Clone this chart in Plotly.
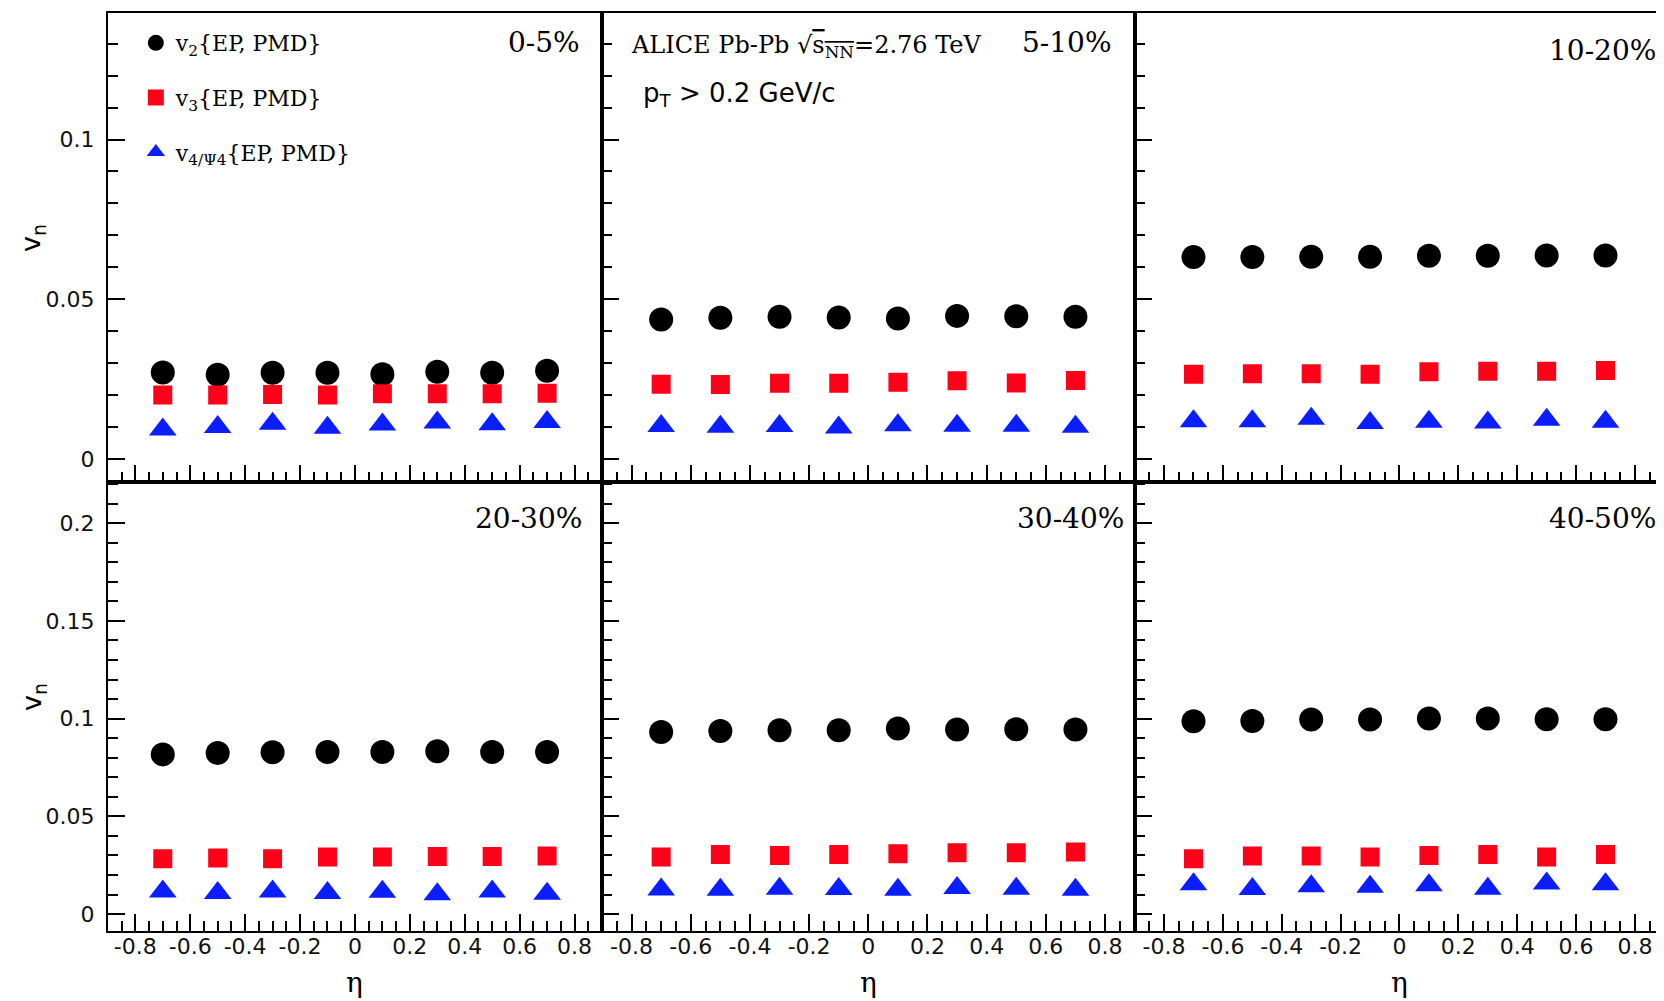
import plotly.graph_objects as go

# ---------------- data ----------------
eta = [-0.7, -0.5, -0.3, -0.1, 0.1, 0.3, 0.5, 0.7]

v2_0_5 = [0.0271, 0.0264, 0.0270, 0.0270, 0.0265, 0.0273, 0.0270, 0.0276]
v3_0_5 = [0.0200, 0.0200, 0.0202, 0.0200, 0.0204, 0.0204, 0.0204, 0.0206]
v4_0_5 = [0.0092, 0.0100, 0.0110, 0.0098, 0.0108, 0.0114, 0.0109, 0.0116]

v2_5_10 = [0.0437, 0.0442, 0.0445, 0.0443, 0.0440, 0.0448, 0.0447, 0.0445]
v3_5_10 = [0.0234, 0.0233, 0.0237, 0.0237, 0.0240, 0.0245, 0.0238, 0.0246]
v4_5_10 = [0.0103, 0.0101, 0.0103, 0.0099, 0.0106, 0.0104, 0.0104, 0.0101]

v2_10_20 = [0.0632, 0.0632, 0.0633, 0.0633, 0.0636, 0.0636, 0.0637, 0.0637]
v3_10_20 = [0.0265, 0.0267, 0.0267, 0.0265, 0.0273, 0.0275, 0.0275, 0.0277]
v4_10_20 = [0.0118, 0.0118, 0.0126, 0.0113, 0.0117, 0.0114, 0.0123, 0.0117]

v2_20_30 = [0.0817, 0.0824, 0.0828, 0.0829, 0.0829, 0.0833, 0.0829, 0.0829]
v3_20_30 = [0.0283, 0.0287, 0.0283, 0.0292, 0.0292, 0.0295, 0.0295, 0.0297]
v4_20_30 = [0.0116, 0.0108, 0.0116, 0.0108, 0.0114, 0.0102, 0.0116, 0.0104]

v2_30_40 = [0.0932, 0.0937, 0.0940, 0.0940, 0.0949, 0.0944, 0.0945, 0.0944]
v3_30_40 = [0.0292, 0.0305, 0.0300, 0.0305, 0.0309, 0.0314, 0.0314, 0.0317]
v4_30_40 = [0.0126, 0.0125, 0.0130, 0.0128, 0.0125, 0.0133, 0.0130, 0.0125]

v2_40_50 = [0.0986, 0.0988, 0.0995, 0.0995, 0.1000, 0.1000, 0.0997, 0.0997]
v3_40_50 = [0.0283, 0.0297, 0.0297, 0.0292, 0.0300, 0.0305, 0.0292, 0.0305]
v4_40_50 = [0.0152, 0.0128, 0.0143, 0.0140, 0.0148, 0.0130, 0.0157, 0.0152]

centralities = ["0-5%", "5-10%", "10-20%", "20-30%", "30-40%", "40-50%"]
series_names = ["v<sub>2</sub>{EP, PMD}", "v<sub>3</sub>{EP, PMD}",
                "v<sub>4/Ψ4</sub>{EP, PMD}"]

x_tickvals = [-0.8, -0.6, -0.4, -0.2, 0, 0.2, 0.4, 0.6, 0.8]
x_ticktext = ["-0.8", "-0.6", "-0.4", "-0.2", "0", "0.2", "0.4", "0.6", "0.8"]

panels = [
    (v2_0_5, v3_0_5, v4_0_5),
    (v2_5_10, v3_5_10, v4_5_10),
    (v2_10_20, v3_10_20, v4_10_20),
    (v2_20_30, v3_20_30, v4_20_30),
    (v2_30_40, v3_30_40, v4_30_40),
    (v2_40_50, v3_40_50, v4_40_50),
]

# ---------------- geometry (page px minus 8 px body margin) ----------------
OFF = 8
FW, FH = 1664 - OFF, 1001 - OFF


def fx(px):
    return (px - OFF) / FW


def fy(py):
    return 1 - (py - OFF) / FH


styles = [
    dict(symbol="circle", color="#000000", size=24),
    dict(symbol="square", color="#ff0018", size=19),
    dict(symbol="triangle-up", color="#0a1eff", size=24),
]

x_edges = [fx(108), fx(602.7), fx(1136), 1.0]
y_top = [fy(481.7), fy(13)]
y_bot = [fy(930.5), fy(481.7)]
x_ranges = [[-0.9, 0.9], [-0.9, 0.9], [-0.9, 0.892]]
yr_top = [-0.0071, 0.1396]
yr_bot = [-0.0084, 0.2212]

SANS = "DejaVu Sans"
SERIF = "DejaVu Serif"

fig = go.Figure()

for i, (vals, cent) in enumerate(zip(panels, centralities)):
    n = i + 1
    for k, (ys, st, name) in enumerate(zip(vals, styles, series_names)):
        fig.add_trace(go.Scatter(
            x=eta, y=ys, mode="markers", name=name,
            xaxis=f"x{n}", yaxis=f"y{n}",
            marker=dict(symbol=st["symbol"], color=st["color"], size=st["size"],
                        line=dict(width=0)),
            showlegend=(i == 0), legendgroup=f"g{k}",
        ))

common = dict(showline=True, linecolor="black", linewidth=2, mirror=True,
              ticks="inside", tickcolor="black", tickwidth=2, showgrid=False,
              zeroline=False, tickfont=dict(family=SANS, size=22, color="#111"))

layout = dict(width=FW, height=FH, margin=dict(l=0, r=0, t=0, b=0),
              plot_bgcolor="white", paper_bgcolor="white",
              showlegend=True,
              legend=dict(x=128 / FW, y=1 - 14 / FH, xanchor="left", yanchor="top",
                          bgcolor="rgba(0,0,0,0)", borderwidth=0,
                          font=dict(family=SERIF, size=22, color="black"),
                          tracegroupgap=23, traceorder="grouped",
                          itemsizing="trace"))

for i in range(6):
    n = i + 1
    col = i % 3
    row = i // 3
    xa = dict(common, domain=[x_edges[col], x_edges[col + 1]], range=x_ranges[col],
              anchor=f"y{n}", tickmode="array", tickvals=x_tickvals,
              ticktext=x_ticktext, ticklen=17, ticklabelstandoff=-5,
              minor=dict(ticks="inside", dtick=0.05, tick0=0, ticklen=10,
                         tickwidth=1.5, tickcolor="black"),
              showticklabels=(row == 1))
    ya = dict(common, domain=(y_top if row == 0 else y_bot),
              range=(yr_top if row == 0 else yr_bot),
              anchor=f"x{n}", dtick=0.05, tick0=0, ticklen=17,
              ticklabelstandoff=7,
              minor=dict(ticks="inside", dtick=0.01, ticklen=10, tickwidth=1.5,
                         tickcolor="black"),
              showticklabels=(col == 0))
    layout[f"xaxis{'' if n == 1 else n}"] = xa
    layout[f"yaxis{'' if n == 1 else n}"] = ya

fig.update_layout(**layout)

# centrality labels
lab_pos = [(0.960, 0.936), (0.961, 0.937), (0.992, 0.921),
           (0.963, 0.917), (0.983, 0.917), (0.992, 0.917)]
for i, (cent, (px, py)) in enumerate(zip(centralities, lab_pos)):
    n = i + 1
    xr = "x domain" if n == 1 else f"x{n} domain"
    yr = "y domain" if n == 1 else f"y{n} domain"
    fig.add_annotation(text=cent, xref=xr, yref=yr, x=px, y=py,
                       xanchor="right", yanchor="middle", showarrow=False,
                       font=dict(family=SERIF, size=28, color="black"))

# y axis titles
for ref in ["y domain", "y4 domain"]:
    fig.add_annotation(text="v<sub>n</sub>", xref="paper", yref=ref,
                       x=fx(33), y=0.52, textangle=-90, showarrow=False,
                       xanchor="center", yanchor="middle",
                       font=dict(family=SANS, size=27, color="black"))

# x axis titles (eta), placed at eta = 0 of each bottom panel
for n in [4, 5, 6]:
    fig.add_annotation(text="η", xref=f"x{n}", yref="paper", x=0, y=0,
                       showarrow=False, xanchor="center", yanchor="bottom",
                       font=dict(family=SERIF, size=28, color="black"))

# experiment info
fig.add_annotation(text="ALICE Pb-Pb √<span style='text-decoration:overline'>s<sub>NN</sub></span>=2.76 TeV",
                   xref="x2 domain", yref="y2 domain", x=(630 - 602.7) / 533.3,
                   y=(481.7 - 46) / 468.7, xanchor="left", yanchor="middle",
                   showarrow=False, font=dict(family=SERIF, size=24, color="black"))
fig.add_annotation(text="p<sub>T</sub> > 0.2 GeV/c",
                   xref="x2 domain", yref="y2 domain", x=(642 - 602.7) / 533.3,
                   y=(481.7 - 94) / 468.7, xanchor="left", yanchor="middle",
                   showarrow=False, font=dict(family=SANS, size=26, color="black"))

fig.write_html("out.html")
